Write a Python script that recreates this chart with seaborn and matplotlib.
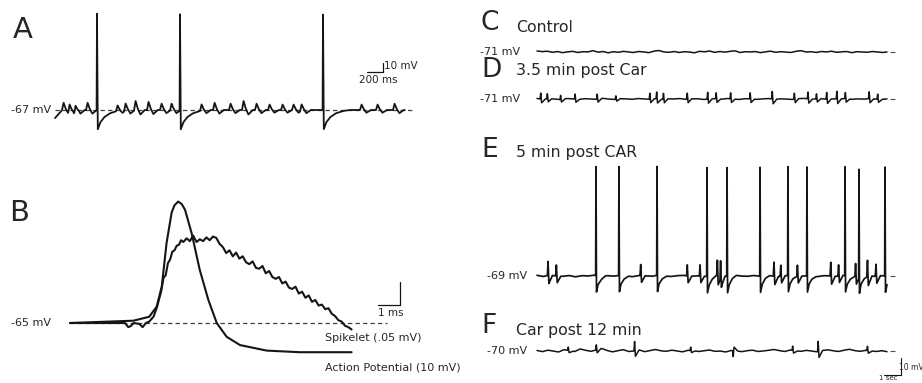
import numpy as np
import matplotlib
matplotlib.use("Agg")
import matplotlib.pyplot as plt
import seaborn as sns

# ---- Panel A: -67 mV cell, 3 action potentials plus spikelets (ms, mV)
a_rest = -67
a_spike_ms = [525, 1562.5, 3350]
a_spike_peak = [107, 107, 106]          # mV above rest
a_spikelet_ms = [87.5, 162.5, 237.5, 387.5,
                 762.5, 862.5, 987.5, 1150, 1312.5, 1437.5,
                 1812.5, 1975, 2175, 2337.5, 2500, 2662.5, 2825, 2962.5, 3062.5,
                 3812.5, 4012.5, 4225]
a_spikelet_amp = [8, 9, 8, 8,
                  6, 8, 10, 9, 7, 7,
                  7, 8, 7, 10, 7, 6, 6, 6, 7,
                  6, 6, 7]
a_start_ms = [0, 40, 90, 4375]
a_start_mv = [-9, -5, 0, 0]

# ---- Panel B: averaged action potential vs spikelet
b_rest = -65
ap_ms = [0, 2.88, 3.6, 3.94, 4.17, 4.39, 4.62, 4.75, 4.92, 5.08, 5.23, 5.53, 5.9, 6.29,
         6.67, 7.12, 7.73, 8.94, 10.45, 12.8]
ap_mv = [-65, -64, -62.3, -57.9, -49.2, -30.2, -17, -13.8, -12.2, -13.3, -15.8, -26, -42,
         -55, -65, -71, -74.6, -77, -77.7, -77.7]
spk_ms = [0, 2.5, 2.65, 2.75, 2.9, 3.15, 3.3, 3.45, 3.6, 3.8, 3.95, 4.05, 4.15, 4.25,
          4.35, 4.45, 4.55, 4.65, 4.75, 4.85, 4.95, 5.05, 5.15, 5.3, 5.45, 5.6, 5.75,
          5.9, 6.05, 6.2, 6.35, 6.5, 6.65, 6.8, 6.95, 7.1, 7.25, 7.4, 7.55, 7.7, 7.85,
          8.0, 8.15, 8.3, 8.45, 8.6, 8.75, 8.9, 9.05, 9.2, 9.35, 9.5, 9.65, 9.8, 9.95,
          10.1, 10.25, 10.4, 10.55, 10.7, 10.85, 11.0, 11.15, 11.3, 11.45, 11.6, 11.75,
          11.9, 12.05, 12.2, 12.35, 12.5, 12.65, 12.8]
spk_mv = [0, 0, -0.009, -0.007, 0.0, -0.002, -0.009, 0.0, 0.003, 0.014, 0.034, 0.052,
          0.07, 0.098, 0.104, 0.13, 0.138, 0.155, 0.158, 0.168, 0.17, 0.18, 0.176, 0.184,
          0.178, 0.19, 0.176, 0.182, 0.178, 0.186, 0.18, 0.188, 0.185, 0.172, 0.165, 0.152,
          0.158, 0.145, 0.153, 0.14, 0.145, 0.132, 0.128, 0.134, 0.12, 0.118, 0.124, 0.108,
          0.113, 0.1, 0.096, 0.1, 0.086, 0.09, 0.077, 0.074, 0.079, 0.064, 0.068, 0.055,
          0.06, 0.046, 0.05, 0.038, 0.04, 0.03, 0.032, 0.02, 0.015, 0.006, 0.003, -0.006,
          -0.009, -0.014]

# ---- Panels C-F: 20.6 s recordings (s, mV)
rec_len_s = 20.6
c_rest = -71
c_noise = [0.6, 0.2, 0.5, -0.2, 0.3, -0.4, 0.1, 0.4, -0.3, 0.2, 0.0, 0.8, -0.1, 0.3,
           -0.5, 0.2, -0.2, 0.4, 0.0, -0.3, 0.3, 0.1, -0.4, 0.5, 0.9, 0.0, -0.2, 0.3,
           -0.3, 0.2, 0.0, -0.5, 0.4, 0.1, 0.6, -0.2, 0.3, -0.1, 0.4, 0.7, -0.3, 0.2,
           0.0, 0.3, -0.4, 0.1, 0.5, -0.2, 0.2, 0.0, -0.3, 0.4, 0.8, 0.0, 0.2, -0.3,
           0.3, 0.0, 0.5, -0.2, 0.1, 0.3, -0.4, 0.2, 0.0, -0.2, 0.3, 0.1, -0.3, 0.0]

d_rest = -71
d_noise = [0.3, -0.2, 0.2, 0.0, -0.4, 0.3, 0.1, -0.3, 0.2, 0.0, -0.2, 0.4, 0.0, -0.3,
           0.2, 0.1, -0.2, 0.3, 0.0, -0.1, 0.2, -0.3, 0.1, 0.0, 0.3, -0.2, 0.1, 0.2,
           -0.3, 0.0, 0.2, -0.1, 0.3, 0.0, -0.3, 0.2, 0.1, -0.2, 0.0, 0.3, -0.2, 0.1,
           0.0, -0.3, 0.2, 0.4, -0.1, 0.0, 0.2, -0.2, 0.1, 0.0, 0.3, -0.2, 0.1, -0.1,
           0.2, 0.0, -0.3, 0.1]
d_spikelet_s = [0.18, 0.57, 1.35, 2.2, 3.5, 4.6, 6.6, 7.0, 7.4, 8.8, 10.0, 10.5, 11.35,
                12.5, 13.8, 15.1, 15.9, 16.4, 17.0, 17.6, 18.1, 19.5, 20.0]
d_spikelet_amp = [3.5, 3.0, 2.5, 3.0, 3.0, 2.0, 3.5, 4.0, 3.5, 3.5, 4.0, 3.5, 3.5,
                  3.5, 4.5, 3.5, 4.0, 3.0, 4.0, 4.5, 3.5, 4.0, 3.0]

e_rest = -69
e_noise = [0.4, -0.3, 0.6, 0.0, -0.2, 0.3, -0.5, 0.2, 0.0, 0.5, -0.3, 0.2, -0.1, 0.4,
           0.0, -0.4, 0.3, 0.1, -0.2, 0.5, 0.0, -0.3, 0.2, 0.4, -0.2, 0.1, 0.0, -0.4,
           0.3, 0.2, -0.3, 0.5, 0.0, -0.2, 0.3, -0.1, 0.4, 0.0, -0.3, 0.2, 0.5, -0.2,
           0.0, 0.3, -0.4, 0.2, 0.1, -0.2, 0.4, 0.0, -0.3, 0.3, 0.1, -0.2, 0.2, 0.0]
e_spike_s = [3.47, 4.82, 7.06, 10.0, 11.18, 13.12, 14.76, 15.88, 18.12, 18.94, 20.47]
e_spike_peak = [64, 64, 64, 64, 64, 64, 64, 64, 64, 64, 64]
e_spikelet_s = [0.61, 1.1, 6.06, 8.8, 9.55, 10.57, 10.76, 13.9, 14.3, 15.28, 17.24,
                17.7, 18.7, 19.4, 19.9]
e_spikelet_amp = [8.2, 6.5, 6.5, 6.5, 6.5, 9.0, 10.5, 8.2, 6.5, 6.5, 8.0, 6.5, 7.6,
                  9.5, 7.0]

f_rest = -70
f_noise = [0.3, -0.4, 0.5, 0.0, -0.6, 0.8, 0.2, -0.3, 1.2, 0.4, -0.2, 0.6, 1.5, 0.3,
           -0.5, 0.2, 0.8, -0.3, 0.0, 0.6, -0.4, 0.3, 0.9, 0.1, -0.2, 0.5, 0.0, -0.5,
           0.4, 0.2, -0.3, 0.1, 0.6, -0.2, 0.0, -0.6, 0.3, 0.1, -0.4, 0.2, 0.5, -0.3,
           0.0, 0.4, 0.9, 0.2, -0.3, 0.6, 0.1, -0.2, 0.4, 0.0, -0.5, 0.3, 0.7, 0.1,
           -0.3, 0.5, 1.0, 0.2, -0.2, 0.4, 0.0, -0.3, 0.2, -0.4]
f_event_s = [1.8, 3.45, 5.7, 9.0, 11.5, 15.0, 16.5, 19.4]
f_event_amp = [2.0, 3.0, 5.5, 2.0, -3.5, 2.5, 6.0, 2.5]

# event shapes (relative time, fraction of amplitude)
A_SPIKELET = ([-1, 0, 20, 45, 80, 135], [0, 0, 1.0, 0.2, -0.5, 0])
A_SPIKE = ([-5, 0, 10, 40, 90, 160, 250, 330], [0, 1, -0.2, -0.13, -0.075, -0.035, -0.01, 0])
R_SPIKELET = ([-0.01, 0, 0.04, 0.09, 0.3], [0, 0, 1.0, -0.6, 0])
R_SPIKE = ([-0.02, 0, 0.03, 0.12, 0.3, 0.55], [0, 1, -0.15, -0.08, -0.03, 0])

W, H = 922, 383
TRACE = "#151515"


def events(t, times, amps, shape):
    v = np.zeros_like(t)
    for t0, a in zip(times, amps):
        v += a * np.interp(t - t0, shape[0], shape[1], left=0, right=0)
    return v


def noise_on(t, noise):
    grid = np.linspace(0, t[-1], len(noise))
    return np.interp(t, grid, noise)


def panel_axes(fig, box, x_px0, x_px_per_unit, y_px0, y0, y_px_per_unit):
    l, t, r, b = box
    ax = fig.add_axes([l / W, 1 - b / H, (r - l) / W, (b - t) / H])
    ax.set_xlim((l - x_px0) / x_px_per_unit, (r - x_px0) / x_px_per_unit)
    ax.set_ylim(y0 - (b - y_px0) / y_px_per_unit, y0 + (y_px0 - t) / y_px_per_unit)
    ax.set_axis_off()
    return ax


def label(fig, x, y, s, size, **kw):
    fig.text(x / W, 1 - y / H, s, fontsize=size, va="center", ha="left", **kw)


sns.set_theme(style="white")
plt.rcParams["font.family"] = ["DejaVu Sans"]
fig = plt.figure(figsize=(W / 100, H / 100), dpi=100)

# ---------------- A
ax_a = panel_axes(fig, (0, 0, 460, 160), 55, 0.08, 110, a_rest, 0.9)
ta = np.arange(0, 4375, 2.5)
va = (a_rest + np.interp(ta, a_start_ms, a_start_mv)
      + events(ta, a_spikelet_ms, a_spikelet_amp, A_SPIKELET)
      + events(ta, a_spike_ms, a_spike_peak, A_SPIKE))
ax_a.hlines(a_rest, 0, 4475, colors="0.25", linestyles=(0, (3.5, 2.5)), lw=0.9)
sns.lineplot(x=ta, y=va, ax=ax_a, color=TRACE, lw=1.3, estimator=None, sort=False)
ax_a.plot([3900, 4100, 4100], [-25, -25, -15], color=TRACE, lw=0.9)
label(fig, 13, 30, "A", 21)
label(fig, 11, 110, "-67 mV", 8)
label(fig, 384, 66, "10 mV", 7.5)
label(fig, 359, 80, "200 ms", 7.5)

# ---------------- B
ax_b = panel_axes(fig, (0, 160, 460, 383), 70, 22, 323, b_rest, 2.3)
ax_b2 = panel_axes(fig, (0, 160, 460, 383), 70, 22, 323, 0, 460)
ax_b.hlines(b_rest, 0, 14.4, colors="0.25", linestyles=(0, (3.5, 2.5)), lw=0.9)
sns.lineplot(x=ap_ms, y=ap_mv, ax=ax_b, color=TRACE, lw=1.5, estimator=None, sort=False)
sns.lineplot(x=spk_ms, y=spk_mv, ax=ax_b2, color=TRACE, lw=1.5, estimator=None, sort=False)
ax_b.plot([14.0, 15.0, 15.0], [-57.2, -57.2, -47.2], color=TRACE, lw=0.9)
label(fig, 9, 213, "B", 21)
label(fig, 11, 323, "-65 mV", 8)
label(fig, 378, 313, "1 ms", 7.5)
label(fig, 325, 338, "Spikelet (.05 mV)", 8)
label(fig, 325, 368, "Action Potential (10 mV)", 8)

# ---------------- C-F
tr = np.arange(0, rec_len_s, 0.01)
right = (460, 0, 922, 383)
rows = [
    ("C", "Control", 52, 23, 27, c_rest, c_noise, [], [], [], []),
    ("D", "3.5 min post Car", 99, 70, 71, d_rest, d_noise, d_spikelet_s, d_spikelet_amp, [], []),
    ("E", "5 min post CAR", 276, 150, 153, e_rest, e_noise, e_spikelet_s, e_spikelet_amp,
     e_spike_s, e_spike_peak),
    ("F", "Car post 12 min", 351, 326, 330, f_rest, f_noise, f_event_s, f_event_amp, [], []),
]
for letter, title, base_px, letter_y, title_y, rest, noise, sl_s, sl_amp, sp_s, sp_amp in rows:
    ax = panel_axes(fig, right, 537, 17, base_px, rest, 1.7)
    v = (rest + noise_on(tr, noise) + events(tr, sl_s, sl_amp, R_SPIKELET)
         + events(tr, sp_s, sp_amp, R_SPIKE))
    sns.lineplot(x=tr, y=v, ax=ax, color=TRACE, lw=1.25 if letter == "E" else 1.1,
                 estimator=None, sort=False)
    ax.hlines(rest, rec_len_s + 0.15, rec_len_s + 0.45, colors="0.3", lw=0.8)
    label(fig, 481, letter_y, letter, 19)
    label(fig, 516, title_y, title, 11.3)
    label(fig, 480 if letter in "CD" else 487, base_px, f"{rest} mV", 8)

ax_f = fig.axes[-1]
ax_f.plot([20.4, 21.4, 21.4], [-84.1, -84.1, -74.1], color=TRACE, lw=0.8)
label(fig, 899, 367, "10 mV", 5.5)
label(fig, 879, 378.5, "1 sec", 5)

fig.savefig("out.png", dpi=100)
